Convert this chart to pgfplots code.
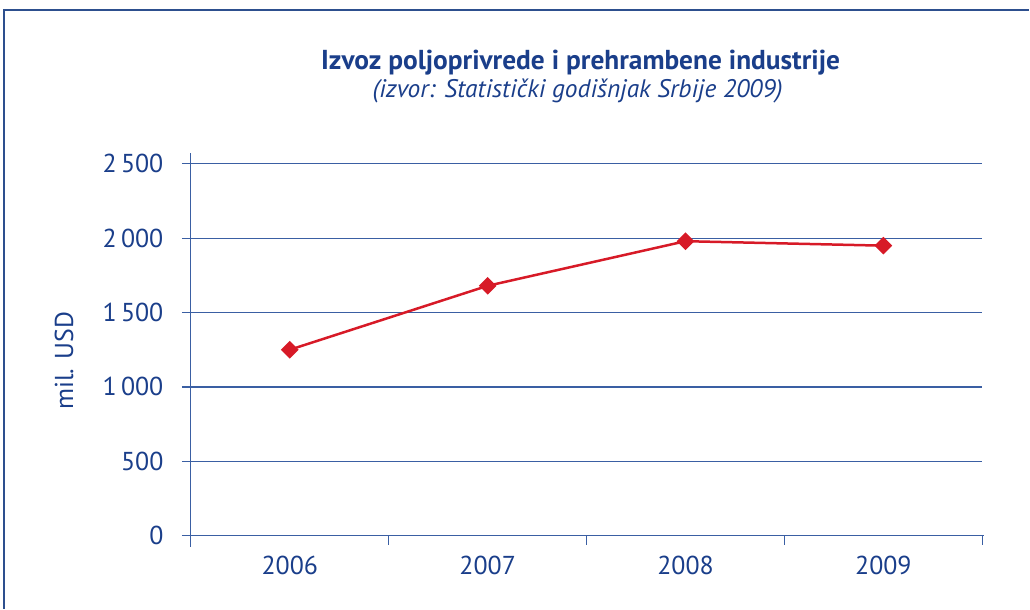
\documentclass[border=0pt]{standalone}
\usepackage{pgfplots}
\pgfplotsset{compat=1.18}
\usepackage{fontspec}
\setmainfont{PT Sans}
\definecolor{txtblue}{HTML}{1A3E8A}
\definecolor{gridblue}{HTML}{3A5FA3}
\definecolor{framecol}{HTML}{2D4F8E}
\definecolor{linered}{HTML}{D71A27}
\begin{document}
\begin{tikzpicture}
\path (0,0) rectangle (1030bp,609bp);
\draw[framecol, line width=1.5bp] (4bp,0) -- (4bp,599bp) -- (1030bp,599bp);
\node[txtblue, font=\bfseries\fontsize{27.5}{32}\selectfont] at (581bp,546bp) {Izvoz poljoprivrede i prehrambene industrije};
\node[txtblue, font=\itshape\fontsize{25.5}{30}\selectfont] at (578bp,518bp) {(izvor: Statistički godišnjak Srbije 2009)};
\begin{axis}[
  at={(191bp,73bp)}, anchor=south west,
  scale only axis, width=792bp, height=372bp,
  xmin=-0.5, xmax=3.5, ymin=0, ymax=2500,
  axis x line*=bottom, axis y line*=left,
  x axis line style={gridblue, line width=1.2bp, shorten <=-8bp, shorten >=-2bp, -},
  y axis line style={gridblue, line width=1.2bp, shorten <=-11bp, shorten >=-11bp, -},
  ytick={0,500,1000,1500,2000,2500},
  ymajorgrids, major grid style={gridblue, line width=1.2bp},
  xtick={-0.5,0.5,1.5,2.5,3.5}, xticklabels={},
  extra x ticks={0,1,2,3}, extra x tick labels={2006,2007,2008,2009},
  extra x tick style={major tick length=0pt, grid=none},
  tick align=outside, major tick length=9bp,
  tick style={gridblue, line width=1.2bp},
  y tick label style={font=\fontsize{26}{30}\selectfont, text=txtblue, xshift=-15bp},
  x tick label style={font=\fontsize{26}{30}\selectfont, text=txtblue, yshift=-17bp},
  /pgf/number format/assume math mode=true,
  /pgf/number format/1000 sep={\,},
  every axis y label/.style={at={(rel axis cs:0,0.47)}, xshift=-127bp, rotate=90, anchor=center},
  ylabel={mil. USD},
  ylabel style={font=\fontsize{26}{30}\selectfont, text=txtblue},
  clip=false,
]
\addplot[linered, line width=2.5bp, mark=square*, mark size=5bp, mark options={rotate=45, fill=linered, draw=linered}]
  coordinates {(0,1250) (1,1680) (2,1980) (3,1950)};
\end{axis}
\end{tikzpicture}
\end{document}
